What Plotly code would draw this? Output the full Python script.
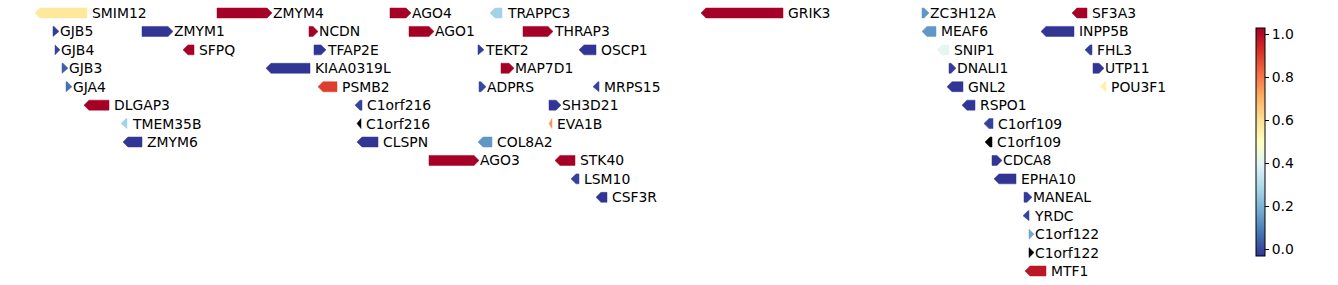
import plotly.graph_objects as go
from plotly.colors import sample_colorscale

# ---- data -------------------------------------------------------------
names = ["SMIM12", "ZMYM4", "AGO4", "TRAPPC3", "GRIK3", "ZC3H12A", "SF3A3",
         "GJB5", "ZMYM1", "NCDN", "AGO1", "THRAP3", "MEAF6", "INPP5B",
         "GJB4", "SFPQ", "TFAP2E", "TEKT2", "OSCP1", "SNIP1", "FHL3",
         "GJB3", "KIAA0319L", "MAP7D1", "DNALI1", "UTP11",
         "GJA4", "PSMB2", "ADPRS", "MRPS15", "GNL2", "POU3F1",
         "DLGAP3", "C1orf216", "SH3D21", "RSPO1",
         "TMEM35B", "C1orf216", "EVA1B", "C1orf109",
         "ZMYM6", "CLSPN", "COL8A2", "C1orf109",
         "AGO3", "STK40", "CDCA8",
         "LSM10", "EPHA10",
         "CSF3R", "MANEAL",
         "YRDC",
         "C1orf122",
         "C1orf122",
         "MTF1"]
starts = [35, 217, 390, 490, 701, 922, 1072,
          53, 142, 309, 409, 523, 922, 1041,
          55, 183, 314, 478, 579, 937, 1085,
          62, 266, 501, 949, 1093,
          66, 318, 479, 593, 947, 1100,
          84, 355, 549, 962,
          121, 357, 549, 984,
          123, 357, 478, 985,
          429, 555, 992,
          571, 994,
          596, 1024,
          1023,
          1029,
          1029,
          1025]
ends = [87, 272, 411, 502, 783, 929, 1087,
        59, 173, 318, 434, 553, 936, 1074,
        60, 194, 326, 484, 596, 949, 1092,
        68, 310, 514, 956, 1104,
        72, 337, 486, 599, 963, 1106,
        109, 362, 561, 975,
        127, 361, 552, 993,
        142, 378, 492, 992,
        479, 575, 1002,
        579, 1016,
        607, 1032,
        1029,
        1034,
        1034,
        1046]
strands = ["-", "+", "+", "-", "-", "+", "-",
           "+", "+", "+", "+", "+", "-", "-",
           "+", "-", "+", "+", "-", "-", "-",
           "+", "-", "+", "+", "+",
           "+", "-", "+", "-", "-", "-",
           "-", "-", "+", "-",
           "-", "-", "-", "-",
           "-", "-", "-", "-",
           "+", "-", "+",
           "-", "-",
           "-", "+",
           "-",
           "+",
           "+",
           "-"]
rows = [0, 0, 0, 0, 0, 0, 0,
        1, 1, 1, 1, 1, 1, 1,
        2, 2, 2, 2, 2, 2, 2,
        3, 3, 3, 3, 3,
        4, 4, 4, 4, 4, 4,
        5, 5, 5, 5,
        6, 6, 6, 6,
        7, 7, 7, 7,
        8, 8, 8,
        9, 9,
        10, 10,
        11,
        12,
        13,
        14]
# None -> gene without a score (drawn black)
values = [0.58, 1.03, 1.03, 0.27, 1.03, 0.14, 1.03,
          -0.02, -0.03, 1.03, 1.03, 1.03, 0.14, -0.03,
          -0.01, 1.03, -0.03, -0.02, -0.03, 0.41, -0.02,
          0.04, -0.03, 1.03, -0.02, -0.03,
          0.07, 0.9, 0.0, -0.01, -0.03, 0.55,
          1.03, -0.01, -0.03, -0.03,
          0.27, None, 0.75, -0.01,
          -0.03, -0.03, 0.14, None,
          1.03, 1.03, -0.03,
          -0.01, -0.03,
          -0.03, -0.02,
          -0.01,
          0.17,
          None,
          0.98]
cbar_ticks = [0.0, 0.2, 0.4, 0.6, 0.8, 1.0]
cbar_ticktext = ["0.0", "0.2", "0.4", "0.6", "0.8", "1.0"]

# ---- styling ------------------------------------------------------------
CMIN, CMAX = -0.03, 1.03
scale = "RdYlBu_r"
HEAD = 5.0      # arrow head length (x units)
HALF = 0.27     # arrow half-height (row units)
FONT = dict(family="DejaVu Sans", size=13.9, color="black")

fig = go.Figure()
annotations = []
for n, s, e, st, r, v in zip(names, starts, ends, strands, rows, values):
    if v is None:
        col = "black"
    else:
        t = min(max((v - CMIN) / (CMAX - CMIN), 0.0), 1.0)
        col = sample_colorscale(scale, [t])[0]
    head = min(HEAD, e - s)
    if st == "+":
        xs = [s, e - head, e, e - head, s, s]
        shift = 1
    else:
        xs = [e, s + head, s, s + head, e, e]
        shift = 5
    ys = [r - HALF, r - HALF, r, r + HALF, r + HALF, r - HALF]
    fig.add_trace(go.Scatter(x=xs, y=ys, mode="lines", fill="toself",
                             fillcolor=col, line=dict(color=col, width=0.5),
                             hoverinfo="text", text=n, showlegend=False))
    annotations.append(dict(x=e, y=r, xref="x", yref="y", text=n,
                            showarrow=False, xanchor="left", yanchor="middle",
                            xshift=shift, borderpad=0, borderwidth=0, font=FONT))

# colorbar carrier
fig.add_trace(go.Scatter(
    x=[None], y=[None], mode="markers", showlegend=False,
    marker=dict(color=[0.5], colorscale=scale, cmin=CMIN, cmax=CMAX,
                showscale=True,
                colorbar=dict(thickness=9, lenmode="pixels", len=228,
                              x=1255.5 / 1338, xanchor="left", xpad=0,
                              y=1 - 142 / 285, yanchor="middle", ypad=0,
                              outlinewidth=1, outlinecolor="black",
                              tickvals=cbar_ticks, ticktext=cbar_ticktext,
                              ticks="outside", ticklen=4, tickwidth=1,
                              tickcolor="black", tickfont=FONT))))

fig.update_layout(
    width=1338, height=285,
    margin=dict(l=0, r=0, t=0, b=0),
    paper_bgcolor="white", plot_bgcolor="white",
    xaxis=dict(range=[0, 1338], visible=False, fixedrange=True),
    yaxis=dict(range=[(285 - 13) / 18.43, -13 / 18.43], visible=False,
               fixedrange=True),
    annotations=annotations,
    font=FONT,
)
fig.write_html("out.html")
